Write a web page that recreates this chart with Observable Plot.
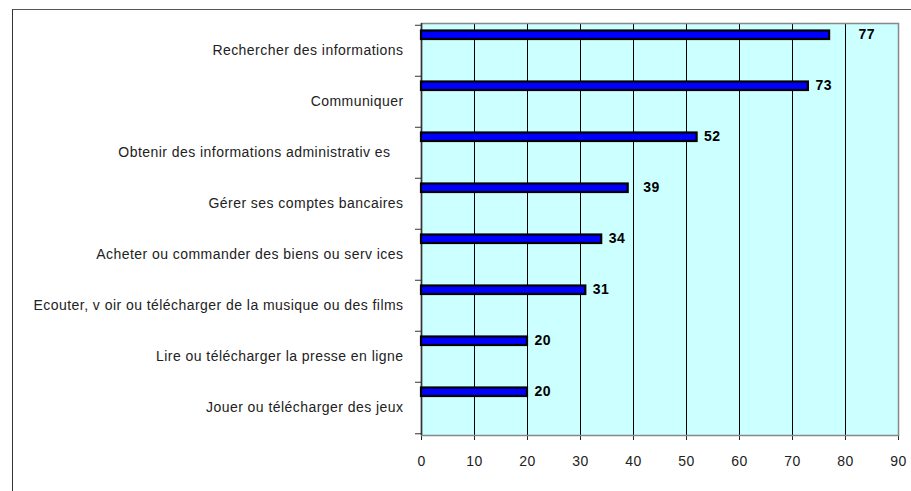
<!DOCTYPE html>
<html>
<head>
<meta charset="utf-8">
<script src="https://cdn.jsdelivr.net/npm/d3@7"></script>
<script src="https://cdn.jsdelivr.net/npm/@observablehq/plot@0.6"></script>
<style>
  html, body { margin: 0; padding: 0; background: #fff; overflow: hidden; }
  #wrap { position: relative; width: 911px; height: 491px; }
  #outer { position: absolute; left: 12px; top: 9px; width: 1200px; height: 1200px;
           border-left: 1px solid #333; border-top: 1px solid #555; box-sizing: border-box; }
  #chart { position: absolute; left: 0; top: 0; }
  #chart svg text { letter-spacing: 0.45px; }
</style>
</head>
<body>
<div id="wrap"><div id="outer"></div><div id="chart"></div></div>
<script>
const categories = [
  "Rechercher des informations",
  "Communiquer",
  "Obtenir des informations administrativ es\u00a0\u00a0\u00a0",
  "Gérer ses comptes bancaires",
  "Acheter ou commander des biens ou serv ices",
  "Ecouter, v oir ou télécharger de la musique ou des films",
  "Lire ou télécharger la presse en ligne",
  "Jouer ou télécharger des jeux"
];
const values = [77, 73, 52, 39, 34, 31, 20, 20];
const xTicks = [0, 10, 20, 30, 40, 50, 60, 70, 80, 90];

// label gap after each bar end (px), as in the original layout
const labelGap = [29, 7, 7, 15, 7, 7, 7, 7];

const data = categories.map((c, i) => ({cat: c, value: values[i], gap: labelGap[i]}));

const width = 911, height = 491;
const marginLeft = 421, marginRight = 13, marginTop = 23, marginBottom = 56;
const bw = (height - marginTop - marginBottom) / categories.length;
const pxPerUnit = (width - marginLeft - marginRight) / 90;

const chart = Plot.plot({
  width, height, marginLeft, marginRight, marginTop, marginBottom,
  style: {fontFamily: "'Liberation Sans', Arial, sans-serif", fontSize: "14px", color: "#222", background: "transparent"},
  x: {domain: [0, 90], ticks: xTicks, tickSize: 5, tickPadding: 16, label: null},
  y: {domain: categories, padding: 0, tickSize: 0, tickPadding: 18, label: null},
  marks: [
    Plot.frame({fill: "#ccffff", stroke: null}),
    Plot.ruleX(xTicks.slice(1, -1), {stroke: "#000", strokeWidth: 1}),
    Plot.frame({stroke: "#888", strokeWidth: 1.5}),
    Plot.ruleX([0], {stroke: "#333", strokeWidth: 1.5}),
    Plot.ruleY(categories, {y: d => d, x1: 0, x2: 0, insetLeft: -6, dy: -bw / 2, stroke: "#333"}),
    Plot.ruleY(categories.slice(-1), {y: d => d, x1: 0, x2: 0, insetLeft: -6, dy: bw / 2, stroke: "#333"}),
    Plot.barX(data, {x: "value", y: "cat", fill: "#0000ff", stroke: "#000", strokeWidth: 2.2, insetTop: 5.5, insetBottom: bw - 14.5}),
    Plot.text(data, {x: d => d.value + d.gap / pxPerUnit, y: "cat", text: d => String(d.value), dy: 9.5 - bw / 2,
      textAnchor: "start", fontWeight: "bold", fontSize: 14, fill: "#000"})
  ]
});
document.getElementById("chart").appendChild(chart);
</script>
</body>
</html>
